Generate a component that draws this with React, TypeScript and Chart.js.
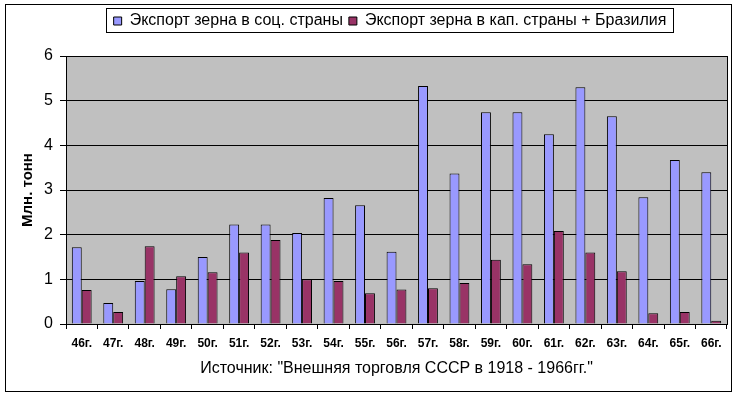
import React, { useEffect, useRef } from "react";
import { Chart, registerables } from "chart.js";

Chart.register(...registerables);

const years = ["46г.", "47г.", "48г.", "49г.", "50г.", "51г.", "52г.", "53г.", "54г.", "55г.", "56г.", "57г.", "58г.", "59г.", "60г.", "61г.", "62г.", "63г.", "64г.", "65г.", "66г."];
const socValues = [1.72, 0.47, 0.96, 0.78, 1.5, 2.23, 2.23, 2.04, 2.82, 2.66, 1.62, 5.33, 3.37, 4.74, 4.74, 4.25, 5.3, 4.65, 2.84, 3.67, 3.4];
const capValues = [0.76, 0.27, 1.74, 1.07, 1.16, 1.6, 1.88, 1.0, 0.96, 0.69, 0.77, 0.8, 0.92, 1.44, 1.34, 2.08, 1.6, 1.18, 0.24, 0.27, 0.07];
const socLabel = "Экспорт зерна в соц. страны";
const capLabel = "Экспорт зерна в кап. страны + Бразилия";
const yAxisTitle = "Млн. тонн";
const xAxisTitle = "Источник: \"Внешняя торговля СССР в 1918 - 1966гг.\"";

const FONT = "'Liberation Sans', Arial, sans-serif";

const framePlugin = {
  id: "frame",
  afterLayout(chart: any) {
    const lg = chart.legend;
    if (lg) {
      const h = lg.height;
      lg.top = 7;
      lg.bottom = 7 + h;
      lg.left = 53;
      lg.right = 727;
    }
  },
  beforeDraw(chart: any) {
    const { ctx, chartArea: a } = chart;
    ctx.save();
    ctx.fillStyle = "#ffffff";
    ctx.fillRect(0, 0, chart.width, chart.height);
    ctx.fillStyle = "#c0c0c0";
    ctx.fillRect(a.left, a.top, a.right - a.left, a.bottom - a.top);
    ctx.strokeStyle = "#000";
    ctx.lineWidth = 1;
    ctx.strokeRect(5.5, 4.5, 726, 387);
    ctx.restore();
  },
  beforeDatasetsDraw(chart: any) {
    const { ctx, chartArea: a } = chart;
    ctx.save();
    ctx.strokeStyle = "#000";
    ctx.lineWidth = 1;
    ctx.strokeRect(Math.round(a.left) + 0.5, Math.round(a.top) + 0.5, Math.round(a.right - a.left), Math.round(a.bottom - a.top));
    ctx.restore();
  },
  afterDraw(chart: any) {
    const lg = chart.legend;
    if (!lg || !lg.legendHitBoxes || !lg.legendHitBoxes.length) return;
    let l = Infinity, r = -Infinity;
    for (const hb of lg.legendHitBoxes) {
      l = Math.min(l, hb.left);
      r = Math.max(r, hb.left + hb.width);
    }
    const { ctx } = chart;
    ctx.save();
    ctx.strokeStyle = "#000";
    ctx.lineWidth = 1;
    ctx.strokeRect(Math.round(l - 8) + 0.5, 8.5, Math.round(r - l + 14), 24);
    ctx.restore();
  },
};

export default function App() {
  const ref = useRef<HTMLCanvasElement | null>(null);
  useEffect(() => {
    if (!ref.current) return;
    const chart = new Chart(ref.current, {
      type: "bar",
      data: {
        labels: years,
        datasets: [
          {
            label: socLabel,
            data: socValues,
            backgroundColor: "#9999ff",
            borderColor: "#000000",
            borderWidth: 1,
            categoryPercentage: 0.63,
            barPercentage: 1,
          },
          {
            label: capLabel,
            data: capValues,
            backgroundColor: "#993366",
            borderColor: "#000000",
            borderWidth: 1,
            categoryPercentage: 0.63,
            barPercentage: 1,
          },
        ],
      },
      options: {
        responsive: false,
        animation: false,
        maintainAspectRatio: false,
        layout: { padding: { left: 0, right: 13, top: 0, bottom: 0 } },
        plugins: {
          legend: {
            display: true,
            position: "top",
            labels: {
              color: "#000",
              font: { family: FONT, size: 16 },
              boxWidth: 8,
              boxHeight: 8,
              padding: 6,
            },
          },
          tooltip: { enabled: false },
        },
        scales: {
          x: {
            grid: {
              display: true,
              drawOnChartArea: false,
              drawTicks: true,
              tickLength: 5,
              color: "#000",
              offset: true,
            },
            border: { color: "#000", width: 1 },
            ticks: {
              color: "#000",
              font: { family: FONT, size: 12, weight: "bold" },
              padding: 7,
              maxRotation: 0,
              autoSkip: false,
            },
            title: {
              display: true,
              text: xAxisTitle,
              color: "#000",
              font: { family: FONT, size: 16 },
              padding: { top: 4, bottom: 20 },
            },
            afterFit(s: any) {
              s.height = 74;
            },
          },
          y: {
            min: 0,
            max: 6,
            ticks: {
              stepSize: 1,
              color: "#000",
              font: { family: FONT, size: 16 },
              padding: 7,
            },
            grid: { color: "#000", lineWidth: 1, tickLength: 6, drawTicks: true },
            border: { color: "#000", width: 1 },
            title: {
              display: true,
              text: yAxisTitle,
              color: "#000",
              font: { family: FONT, size: 15, weight: "bold" },
              padding: { top: 19, bottom: 0 },
            },
            afterFit(s: any) {
              s.width = 66;
              s.paddingTop = 56;
            },
          },
        },
      },
      plugins: [framePlugin],
    } as any);
    return () => chart.destroy();
  }, []);
  return (
    <div style={{ position: "fixed", left: 0, top: 0, width: 740, height: 398, background: "#fff" }}>
      <canvas ref={ref} width={740} height={398} style={{ display: "block" }} />
    </div>
  );
}
